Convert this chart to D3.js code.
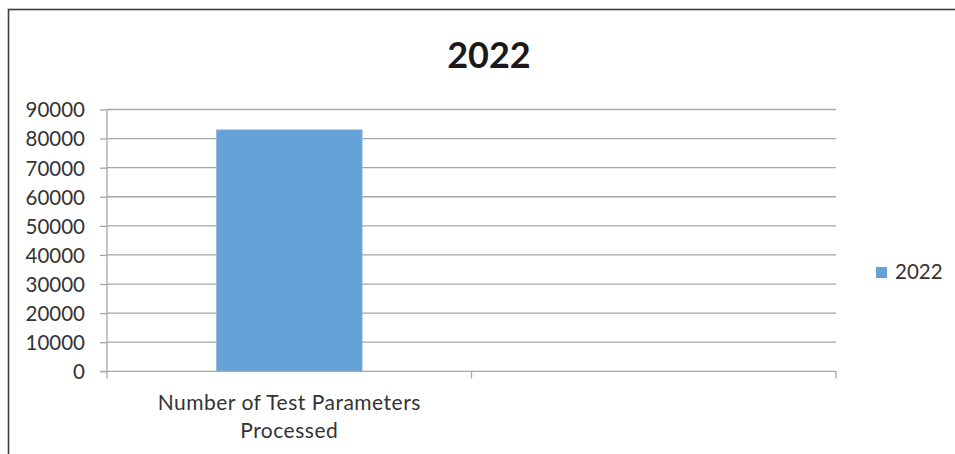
<!DOCTYPE html>
<html>
<head>
<meta charset="utf-8">
<script src="https://cdn.jsdelivr.net/npm/d3@7"></script>
<style>
  html, body { margin: 0; padding: 0; background: #fff; }
  svg { display: block; }
  text { font-family: Lato, "Open Sans", sans-serif; }
</style>
</head>
<body>
<svg id="chart" width="955" height="454"></svg>
<script>
// Chart data
const categories = ["Number of Test Parameters Processed", ""];
const values2022 = [83000, null];
const seriesName = "2022";
const chartTitle = "2022";
const yTicks = [0, 10000, 20000, 30000, 40000, 50000, 60000, 70000, 80000, 90000];

const svg = d3.select("#chart");
const W = 955, H = 454;
const plot = { left: 107, right: 836, top: 109.5, bottom: 371.3 };
const barColor = "#66a1d7";
const gridColor = "#a6a6a6";
const textColor = "#333333";

// Outer chart frame (runs past the right and bottom edges)
svg.append("rect")
  .attr("x", 8.5).attr("y", 9.5)
  .attr("width", W + 10).attr("height", H + 10)
  .attr("fill", "#fff")
  .attr("stroke", "#3f3f3f").attr("stroke-width", 1.6);

// Title
svg.append("text")
  .attr("x", 489).attr("y", 68)
  .attr("text-anchor", "middle")
  .attr("font-size", 36).attr("font-weight", 700)
  .attr("fill", "#1a1a1a")
  .text(chartTitle);

const x = d3.scaleBand().domain(categories.map((d, i) => i))
  .range([plot.left, plot.right]).paddingInner(0).paddingOuter(0);
const y = d3.scaleLinear().domain([0, 90000]).range([plot.bottom, plot.top]);

// Horizontal gridlines
svg.append("g").selectAll("line").data(yTicks.filter(d => d > 0)).join("line")
  .attr("x1", plot.left).attr("x2", plot.right)
  .attr("y1", d => y(d)).attr("y2", d => y(d))
  .attr("stroke", gridColor).attr("stroke-width", 1.3);

// Bars (gap width 150%)
const barW = x.bandwidth() / 2.5;
svg.append("g").selectAll("rect").data(values2022.map((v, i) => ({ v, i })).filter(d => d.v != null)).join("rect")
  .attr("x", d => x(d.i) + (x.bandwidth() - barW) / 2)
  .attr("width", barW)
  .attr("y", d => y(d.v))
  .attr("height", d => y(0) - y(d.v))
  .attr("fill", barColor)
  .attr("stroke", "#8fbbe4").attr("stroke-width", 0.8);

// Y axis
const yAxis = d3.axisLeft(y).tickValues(yTicks).tickSize(7).tickPadding(15).tickFormat(d3.format("d"));
const gy = svg.append("g").attr("transform", `translate(${plot.left},0)`).call(yAxis);
gy.select(".domain").attr("stroke", gridColor).attr("stroke-width", 1.3)
  .attr("d", `M0,${plot.top}V${plot.bottom}`);
gy.selectAll(".tick line").attr("stroke", gridColor).attr("stroke-width", 1.3);
gy.selectAll(".tick text").attr("font-size", 20.5).attr("fill", textColor)
  .attr("font-family", "Lato, 'Open Sans', sans-serif").attr("dy", "0.36em");

// X axis line and category boundary ticks
const gx = svg.append("g");
gx.append("line")
  .attr("x1", plot.left - 7).attr("x2", plot.right)
  .attr("y1", plot.bottom).attr("y2", plot.bottom)
  .attr("stroke", gridColor).attr("stroke-width", 1.3);
const bounds = categories.map((d, i) => x(i)).concat([plot.right]);
gx.selectAll("line.b").data(bounds).join("line").attr("class", "b")
  .attr("x1", d => d).attr("x2", d => d)
  .attr("y1", plot.bottom).attr("y2", plot.bottom + 7)
  .attr("stroke", gridColor).attr("stroke-width", 1.3);

// Category labels (wrapped in two lines)
const labelLines = ["Number of Test Parameters", "Processed"];
categories.forEach((c, i) => {
  if (!c) return;
  const lines = i === 0 ? labelLines : [c];
  const t = svg.append("text")
    .attr("x", x(i) + x.bandwidth() / 2).attr("y", 410)
    .attr("text-anchor", "middle")
    .attr("font-size", 21).attr("letter-spacing", 0.5).attr("fill", textColor);
  lines.forEach((l, k) => t.append("tspan")
    .attr("x", x(i) + x.bandwidth() / 2).attr("dy", k === 0 ? 0 : 28).text(l));
});

// Legend
svg.append("rect").attr("x", 876).attr("y", 267).attr("width", 11).attr("height", 11).attr("fill", barColor);
svg.append("text").attr("x", 895).attr("y", 279)
  .attr("font-size", 20.5).attr("fill", textColor).text(seriesName);
</script>
</body>
</html>
